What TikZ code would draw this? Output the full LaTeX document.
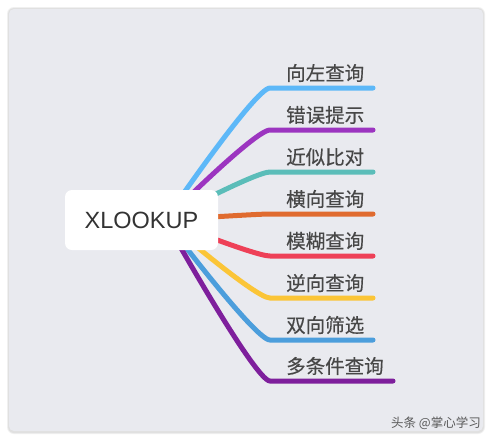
\documentclass[tikz,border=0pt]{standalone}
\usepackage{fontspec}
\setmainfont{Liberation Sans}
\newfontfamily\cjk[FakeBold=0.4]{Noto Sans CJK SC}
\newfontfamily\cjkwm{Noto Sans CJK SC}
\usetikzlibrary{calc}
\pgfdeclarelayer{background}
\pgfsetlayers{background,main}
\definecolor{panel}{HTML}{E9EAEF}
\definecolor{cA}{HTML}{5DB8F8}
\definecolor{cB}{HTML}{9C35C0}
\definecolor{cC}{HTML}{5BBDB9}
\definecolor{cD}{HTML}{E06B2F}
\definecolor{cE}{HTML}{EE4057}
\definecolor{cF}{HTML}{FBC537}
\definecolor{cG}{HTML}{4C9EDC}
\definecolor{cH}{HTML}{7E1F9C}
\definecolor{txt}{HTML}{474747}
\tikzset{
  branch/.style={line width=5pt, line cap=round},
  lbl/.style={anchor=west, inner sep=0pt, text=txt, font=\cjk\fontsize{19.5}{22}\selectfont},
  rootbox/.style={fill=white, rounded corners=7pt, minimum width=153pt, minimum height=60pt, inner sep=0pt, text=black!80, font=\fontsize{23.5}{26}\selectfont}
}
\begin{document}
\begin{tikzpicture}[x=1pt,y=-1pt]
\useasboundingbox (0,0) rectangle (492,440);
% root
\node[rootbox] (root) at (141.5,220) {XLOOKUP};
\coordinate (s) at ($(root.center)+(23.5,0)$);
% branch ends
\foreach \n/\y/\xe in {1/88/373,2/130/373,3/172/373,4/214/373,5/256/373,6/298/373,7/340/373,8/381/393}{
  \coordinate (e\n) at (\xe,\y);
  \coordinate (k\n) at (270,\y);
  \coordinate (c\n) at (255,\y);
}
% labels
\node[lbl] (l1) at (286,73) {向左查询};
\node[lbl] (l2) at (286,115) {错误提示};
\node[lbl] (l3) at (286,157) {近似比对};
\node[lbl] (l4) at (286,199) {横向查询};
\node[lbl] (l5) at (286,241) {模糊查询};
\node[lbl] (l6) at (286,283) {逆向查询};
\node[lbl] (l7) at (286,325) {双向筛选};
\node[lbl] (l8) at (286,366) {多条件查询};
\begin{pgfonlayer}{background}
\fill[white] (0,0) rectangle (492,440);
\fill[black!6, rounded corners=7pt] (7,7) rectangle (485,434);
\fill[black!12, rounded corners=6pt] (8,8) rectangle (484,433);
\fill[panel, rounded corners=5pt] (9,9) rectangle (483,431);
\foreach \n/\c in {1/cA,2/cB,3/cC,4/cD,5/cE,6/cF,7/cG,8/cH}{
  \draw[branch, draw=\c] (s) .. controls (s) and (c\n) .. (k\n) -- (e\n);
}
\end{pgfonlayer}
% watermark
\node[inner sep=0pt, text=black!65, font=\cjkwm\fontsize{12.5}{14}\selectfont] (wm) at (436,423) {头条 @掌心学习};
\end{tikzpicture}
\end{document}
